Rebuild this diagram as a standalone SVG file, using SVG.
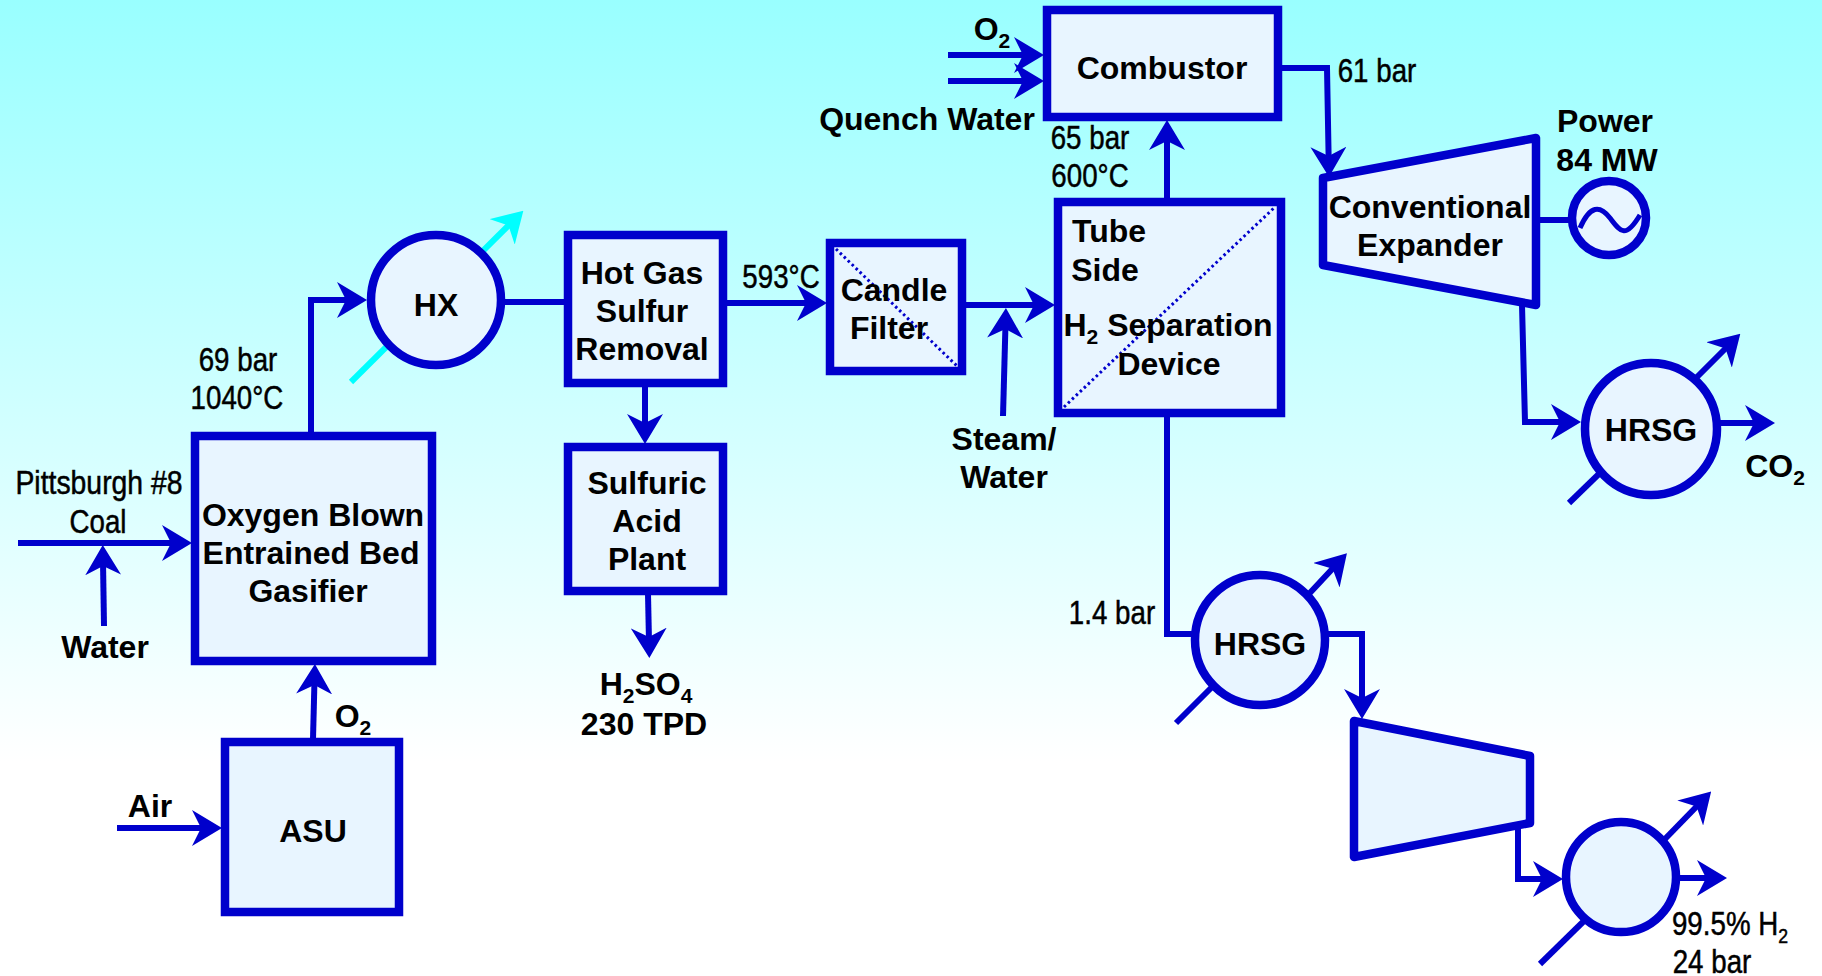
<svg xmlns="http://www.w3.org/2000/svg" width="1822" height="976" viewBox="0 0 1822 976">
<defs>
<linearGradient id="bg" x1="0" y1="0" x2="0" y2="1"><stop offset="0" stop-color="#99ffff"/><stop offset="0.78" stop-color="#ffffff"/><stop offset="1" stop-color="#ffffff"/></linearGradient>
<marker id="a" viewBox="0 0 30 36" refX="14" refY="18" markerWidth="30" markerHeight="36" markerUnits="userSpaceOnUse" orient="auto"><path d="M0 0L30 18L0 36L9 18Z" fill="#0000cc"/></marker>
<marker id="c" viewBox="0 0 30 36" refX="14" refY="18" markerWidth="30" markerHeight="36" markerUnits="userSpaceOnUse" orient="auto"><path d="M0 0L30 18L0 36L9 18Z" fill="#00ffff"/></marker>
</defs>
<style>
.n{fill:#e8f5ff;stroke:#0000cc;stroke-width:8.500}
.r{stroke-linejoin:round}
.l{fill:none;stroke:#0000cc;stroke-width:6;marker-end:url(#a)}
.p{fill:none;stroke:#0000cc;stroke-width:6}
.d{fill:none;stroke:#0000cc;stroke-width:3;stroke-dasharray:2.5 3}
text{font-family:"Liberation Sans",Arial,sans-serif;fill:#000;text-anchor:middle}
.b{font-size:32px;font-weight:700}
.t{font-size:33px;font-weight:400;stroke:#000;stroke-width:.5}
.s{font-size:21px}
</style>
<rect width="1822" height="976" fill="url(#bg)"/>
<g id="connectors">
<path class="l" d="M18 543H176"/>
<path class="l" d="M104 626L103 561"/>
<path class="l" d="M311 433V300H351"/>
<path class="l" d="M313 739L314.500 680"/>
<path class="l" d="M117 828H206"/>
<path d="M351 382L512 222" fill="none" stroke="#00ffff" stroke-width="6" marker-end="url(#c)"/>
<path class="p" d="M504 302H565"/>
<path class="l" d="M726 303H811"/>
<path class="l" d="M645 385V428"/>
<path class="l" d="M648 594L649 642"/>
<path class="l" d="M965 305H1039"/>
<path class="l" d="M1003 416L1005.500 324"/>
<path class="l" d="M1167 199V136"/>
<path class="l" d="M948 55H1028"/>
<path class="l" d="M948 81H1028"/>
<path class="l" d="M1281 68H1327L1328.700 161"/>
<path class="p" d="M1537 220H1569"/>
<path class="l" d="M1522 305L1525 422H1565"/>
<path class="l" d="M1696 378L1729 345"/>
<path class="l" d="M1719 423H1759"/>
<path class="p" d="M1569 503L1603 470"/>
<path class="p" d="M1167 416V634H1193"/>
<path class="l" d="M1307 596L1336 565"/>
<path class="p" d="M1176 723L1212 687"/>
<path class="l" d="M1327 634H1362V703"/>
<path class="l" d="M1518 825V879H1547"/>
<path class="l" d="M1663 841L1700 803"/>
<path class="l" d="M1677 878H1711"/>
<path class="p" d="M1540 964L1587 918"/>
</g>
<g id="gasifier"><rect class="n" x="195" y="436" width="237" height="225"/><text class="b" x="313" y="526">Oxygen Blown</text><text class="b" x="311" y="564">Entrained Bed</text><text class="b" x="308" y="602">Gasifier</text></g>
<g id="asu"><rect class="n" x="225" y="742" width="174" height="170"/><text class="b" x="313" y="842">ASU</text></g>
<g id="hx"><circle class="n" cx="436" cy="300" r="65"/><text class="b" x="436" y="316">HX</text></g>
<g id="hotgas"><rect class="n" x="568" y="235" width="155" height="148"/><text class="b" x="642" y="284">Hot Gas</text><text class="b" x="642" y="322">Sulfur</text><text class="b" x="642" y="360">Removal</text></g>
<g id="sulfuric"><rect class="n" x="568" y="447" width="155" height="144"/><text class="b" x="647" y="494">Sulfuric</text><text class="b" x="647" y="532">Acid</text><text class="b" x="647" y="570">Plant</text></g>
<g id="candle"><rect class="n" x="830" y="243" width="132" height="128"/><path class="d" d="M836 249L957 366"/><text class="b" x="894" y="301">Candle</text><text class="b" x="889" y="339">Filter</text></g>
<g id="separator"><rect class="n" x="1058" y="202" width="223" height="211"/><path class="d" d="M1064 407L1275 207"/><text class="b" x="1109" y="242">Tube</text><text class="b" x="1105" y="281">Side</text><text class="b" x="1168" y="336">H<tspan class="s" dy="8">2</tspan><tspan dy="-8"> Separation</tspan></text><text class="b" x="1169" y="375">Device</text></g>
<g id="combustor"><rect class="n" x="1047" y="10" width="231" height="107"/><text class="b" x="1162" y="79">Combustor</text></g>
<g id="expander"><path class="n r" d="M1323 178L1536 138V305L1323 265Z"/><text class="b" x="1430" y="218">Conventional</text><text class="b" x="1430" y="256">Expander</text></g>
<g id="generator"><circle class="n" cx="1609" cy="218" r="37"/><path d="M1580 228C1590 205 1600 205 1610 218S1625 240 1640 215" fill="none" stroke="#0000cc" stroke-width="5"/></g>
<g id="hrsg1"><circle class="n" cx="1651" cy="429" r="66"/><text class="b" x="1651" y="441">HRSG</text></g>
<g id="hrsg2"><circle class="n" cx="1260" cy="640" r="65"/><text class="b" x="1260" y="655">HRSG</text></g>
<g id="expander2"><path class="n r" d="M1354 721L1530 756V823L1354 857Z"/></g>
<g id="hrsg3"><circle class="n" cx="1621" cy="877" r="55"/></g>
<g id="labels">
<text class="t" transform="translate(99 494) scale(.86 1)">Pittsburgh #8</text><text class="t" transform="translate(98 533) scale(.84 1)">Coal</text>
<text class="b" x="105" y="658">Water</text>
<text class="t" transform="translate(238 371) scale(.84 1)">69 bar</text><text class="t" transform="translate(237 409) scale(.84 1)">1040°C</text>
<text class="b" x="353" y="727">O<tspan class="s" dy="8">2</tspan></text>
<text class="b" x="150" y="817">Air</text>
<text class="t" transform="translate(781 288) scale(.84 1)">593°C</text>
<text class="b" x="646" y="695">H<tspan class="s" dy="8">2</tspan><tspan dy="-8">SO</tspan><tspan class="s" dy="8">4</tspan></text>
<text class="b" x="644" y="735">230 TPD</text>
<text class="b" x="992" y="40">O<tspan class="s" dy="8">2</tspan></text>
<text class="b" x="927" y="130">Quench Water</text>
<text class="t" transform="translate(1090 149) scale(.84 1)">65 bar</text><text class="t" transform="translate(1090 187) scale(.84 1)">600°C</text>
<text class="b" x="1004" y="450">Steam/</text><text class="b" x="1004" y="488">Water</text>
<text class="t" transform="translate(1377 82) scale(.84 1)">61 bar</text>
<text class="b" x="1605" y="132">Power</text><text class="b" x="1607" y="171">84 MW</text>
<text class="b" x="1775" y="477">CO<tspan class="s" dy="8">2</tspan></text>
<text class="t" transform="translate(1112 624) scale(.84 1)">1.4 bar</text>
<text class="t" transform="translate(1730 935) scale(.84 1)">99.5% H<tspan class="s" dy="8">2</tspan></text>
<text class="t" transform="translate(1712 973) scale(.84 1)">24 bar</text>
</g>
</svg>
